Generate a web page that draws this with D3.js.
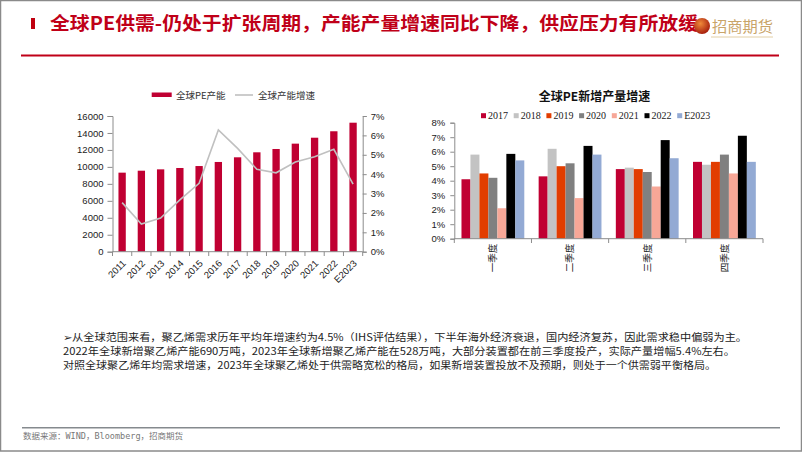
<!DOCTYPE html>
<html><head><meta charset="utf-8">
<script src="https://cdn.jsdelivr.net/npm/d3@7"></script>
<style>
body{margin:0;padding:0;background:#fff;}
svg{display:block;}
</style></head>
<body>
<script>
// ---- Data ----
const pageTitle = "全球PE供需-仍处于扩张周期，产能产量增速同比下降，供应压力有所放缓";
const years = ["2011","2012","2013","2014","2015","2016","2017","2018","2019","2020","2021","2022","E2023"];
const capacity = [9320,9550,9710,9870,10100,10580,11130,11720,12110,12740,13440,14200,15210];
const capacityGrowth = [0.0253,0.0143,0.0174,0.0267,0.0353,0.0628,0.0533,0.0425,0.0407,0.0463,0.0490,0.0528,0.0348];
const leftTicks = [0,2000,4000,6000,8000,10000,12000,14000,16000];
const rightTicks = [0,0.01,0.02,0.03,0.04,0.05,0.06,0.07];
const leftLegend = ["全球PE产能","全球产能增速"];

const chart2Title = "全球PE新增产量增速";
const quarters = ["一季度","二季度","三季度","四季度"];
const seriesYears = ["2017","2018","2019","2020","2021","2022","E2023"];
const q2017 = [0.041,0.043,0.048,0.053];
const q2018 = [0.058,0.062,0.049,0.051];
const q2019 = [0.045,0.050,0.048,0.053];
const q2020 = [0.042,0.052,0.046,0.058];
const q2021 = [0.021,0.028,0.036,0.045];
const q2022 = [0.0585,0.064,0.068,0.071];
const qE2023 = [0.054,0.058,0.0555,0.053];
const chart2Ticks = [0,0.01,0.02,0.03,0.04,0.05,0.06,0.07,0.08];
const seriesColors = ["#C00032","#C3C3C3","#E23D00","#808080","#F7A797","#000000","#93AAD4"];

const paragraph = [
  "➢从全球范围来看，聚乙烯需求历年平均年增速约为4.5%（IHS评估结果），下半年海外经济衰退，国内经济复苏，因此需求稳中偏弱为主。",
  "2022年全球新增聚乙烯产能690万吨，2023年全球新增聚乙烯产能在528万吨，大部分装置都在前三季度投产，实际产量增幅5.4%左右。",
  "对照全球聚乙烯年均需求增速，2023年全球聚乙烯处于供需略宽松的格局，如果新增装置投放不及预期，则处于一个供需弱平衡格局。"
];
const source = "数据来源：WIND，Bloomberg，招商期货";
const logoText = "招商期货";

// ---- Drawing ----
const W = 802, H = 452;
const svg = d3.select("body").append("svg").attr("width", W).attr("height", H);
const sans = "'Liberation Sans', Arial, sans-serif";
const cjk = "'Noto Sans CJK SC', 'Noto Sans', sans-serif";

svg.append("rect").attr("x",0.5).attr("y",0.5).attr("width",W-1).attr("height",H-1.5)
  .attr("fill","#fff").attr("stroke","#8a8a8a").attr("stroke-width",1.5);

// header
svg.append("rect").attr("x",31).attr("y",18).attr("width",4).attr("height",11).attr("fill","#C00010");
svg.append("text").attr("x",50).attr("y",30).attr("font-family",cjk).attr("font-weight","bold")
  .attr("font-size",18.5).attr("fill","#C00018").attr("textLength",648).attr("lengthAdjust","spacingAndGlyphs")
  .text(pageTitle);
svg.append("line").attr("x1",21).attr("x2",779).attr("y1",55.5).attr("y2",55.5).attr("stroke","#C00018").attr("stroke-width",2.2);
// logo
const lg = svg.append("g");
const grad = svg.append("defs").append("radialGradient").attr("id","lgr").attr("cx","40%").attr("cy","35%").attr("r","65%");
grad.append("stop").attr("offset","0%").attr("stop-color","#F08A3A");
grad.append("stop").attr("offset","100%").attr("stop-color","#A8200E");
lg.append("circle").attr("cx",702).attr("cy",26).attr("r",8).attr("fill","url(#lgr)");
lg.append("text").attr("x",712).attr("y",32).attr("font-family","'Noto Sans CJK SC', serif").attr("font-size",14.5)
  .attr("fill","#C9A469").attr("textLength",61).attr("lengthAdjust","spacingAndGlyphs").text(logoText);
lg.append("line").attr("x1",711).attr("x2",773).attr("y1",37).attr("y2",37).attr("stroke","#E2CFA6").attr("stroke-width",1);

// ---------- Left chart ----------
const lx = d3.scaleBand().domain(years).range([112.5,362.7]).paddingInner(0.62).paddingOuter(0.31);
const ly = d3.scaleLinear().domain([0,16000]).range([251.7,116]);
const ry = d3.scaleLinear().domain([0,0.07]).range([251.7,116]);
const axisCol = "#8c8c8c";
const L = svg.append("g");

L.selectAll("rect.bar").data(years).join("rect").attr("class","bar")
  .attr("x",d=>lx(d)).attr("width",lx.bandwidth())
  .attr("y",(d,i)=>ly(capacity[i])).attr("height",(d,i)=>ly(0)-ly(capacity[i]))
  .attr("fill","#C00032");

const line = d3.line().x((d,i)=>lx(years[i])+lx.bandwidth()/2).y(d=>ry(d));
L.append("path").attr("d",line(capacityGrowth)).attr("fill","none").attr("stroke","#C0C0C0").attr("stroke-width",1.6);

// left y axis
const la = L.append("g").attr("transform","translate(112.5,0)")
  .call(d3.axisLeft(ly).tickValues(leftTicks).tickSize(5).tickPadding(4).tickFormat(d3.format("d")));
const ra = L.append("g").attr("transform","translate(362.7,0)")
  .call(d3.axisRight(ry).tickValues(rightTicks).tickSize(4).tickPadding(4).tickFormat(d3.format(".0%")));
// x axis
const xa = L.append("g").attr("transform","translate(0,251.7)")
  .call(d3.axisBottom(lx).tickSize(0).tickPadding(0));
xa.selectAll("text").attr("x",0).attr("y",0).attr("dy","0.35em")
  .attr("transform","translate(2,10) rotate(-45)").attr("text-anchor","end");
// boundary ticks on x axis
const lb = years.map(d=>lx(d)-lx.step()*lx.paddingInner()/2).concat([362.7]);
L.selectAll("line.xt").data(lb).join("line").attr("class","xt")
  .attr("x1",d=>d).attr("x2",d=>d).attr("y1",251.7).attr("y2",256).attr("stroke",axisCol);
[la,ra,xa].forEach(a=>{
  a.select(".domain").attr("stroke",axisCol);
  a.selectAll(".tick line").attr("stroke",axisCol);
  a.selectAll("text").attr("font-family",sans).attr("font-size",9.5).attr("fill","#222");
});
xa.select(".domain").attr("d","M112.5,0H362.7");

// left legend
L.append("rect").attr("x",151.7).attr("y",92.5).attr("width",20).attr("height",4.5).attr("fill","#C00032");
L.append("text").attr("x",176).attr("y",98.5).attr("font-family","'Noto Sans CJK SC', serif").attr("font-size",9.5).attr("fill","#333").text(leftLegend[0]);
L.append("line").attr("x1",235).attr("x2",253).attr("y1",95).attr("y2",95).attr("stroke","#C0C0C0").attr("stroke-width",1.6);
L.append("text").attr("x",258).attr("y",98.5).attr("font-family","'Noto Sans CJK SC', serif").attr("font-size",9.5).attr("fill","#333").text(leftLegend[1]);

// ---------- Right chart ----------
const seriesVals = [q2017,q2018,q2019,q2020,q2021,q2022,qE2023];
const x0 = d3.scaleBand().domain(quarters).range([454.3,763]).padding(0);
const x1 = d3.scaleBand().domain(seriesYears).range([0,x0.bandwidth()]).paddingInner(0).paddingOuter(0.8);
const y2 = d3.scaleLinear().domain([0,0.08]).range([238.7,122.7]);
const R = svg.append("g");

R.append("text").attr("x",594.5).attr("y",100.5).attr("text-anchor","middle").attr("font-family",cjk)
  .attr("font-weight","bold").attr("font-size",12).attr("fill","#111").text(chart2Title);

seriesYears.forEach((sy,si)=>{
  R.selectAll("rect.s"+si).data(quarters).join("rect").attr("class","s"+si)
    .attr("x",q=>x0(q)+x1(sy)).attr("width",x1.bandwidth())
    .attr("y",(q,i)=>y2(seriesVals[si][i])).attr("height",(q,i)=>y2(0)-y2(seriesVals[si][i]))
    .attr("fill",seriesColors[si]);
});

const ya2 = R.append("g").attr("transform","translate(454.3,0)")
  .call(d3.axisLeft(y2).tickValues(chart2Ticks).tickSize(4).tickPadding(5).tickFormat(d3.format(".0%")));
const xa2 = R.append("g").attr("transform","translate(0,238.7)")
  .call(d3.axisBottom(x0).tickSize(0).tickPadding(0));
xa2.selectAll("text").attr("transform","rotate(-90)").attr("text-anchor","end")
  .attr("x",-5).attr("y",0).attr("dy","0.35em");
const qb = quarters.map(q=>x0(q)).concat([763]);
R.selectAll("line.qt").data(qb).join("line").attr("class","qt")
  .attr("x1",d=>d).attr("x2",d=>d).attr("y1",238.7).attr("y2",243).attr("stroke",axisCol);
[ya2,xa2].forEach(a=>{
  a.select(".domain").attr("stroke",axisCol);
  a.selectAll(".tick line").attr("stroke",axisCol);
  a.selectAll("text").attr("font-family",sans).attr("font-size",9.5).attr("fill","#222");
});
xa2.selectAll("text").attr("font-family",cjk).attr("font-size",9.5);
xa2.select(".domain").attr("d","M454.3,0H763");

// right legend
const leg = R.selectAll("g.lg").data(seriesYears).join("g").attr("class","lg")
  .attr("transform",(d,i)=>`translate(${481+i*32.7},115.7)`);
leg.append("rect").attr("x",0).attr("y",-2.5).attr("width",5).attr("height",5).attr("fill",(d,i)=>seriesColors[i]);
leg.append("text").attr("x",7).attr("y",3.3).attr("font-family","'Liberation Serif', 'Times New Roman', serif")
  .attr("font-size",10).attr("fill","#222").text(d=>d);

// paragraph
const lineEnds = [747,735,716];
svg.selectAll("text.para").data(paragraph).join("text").attr("class","para")
  .attr("x",63).attr("y",(d,i)=>340.5+i*14.3).attr("font-family",cjk).attr("font-size",9.8).attr("fill","#222")
  .attr("textLength",(d,i)=>lineEnds[i]-63).attr("lengthAdjust","spacingAndGlyphs").text(d=>d);

// footer
svg.append("line").attr("x1",22).attr("x2",780).attr("y1",427.7).attr("y2",427.7).attr("stroke","#858a8e").attr("stroke-width",1.6);
svg.append("text").attr("x",23).attr("y",438.5).attr("font-family","'DejaVu Sans Mono', 'Noto Sans CJK SC', monospace")
  .attr("font-size",8.5).attr("fill","#777").attr("textLength",160).attr("lengthAdjust","spacingAndGlyphs").text(source);
</script>
</body></html>
